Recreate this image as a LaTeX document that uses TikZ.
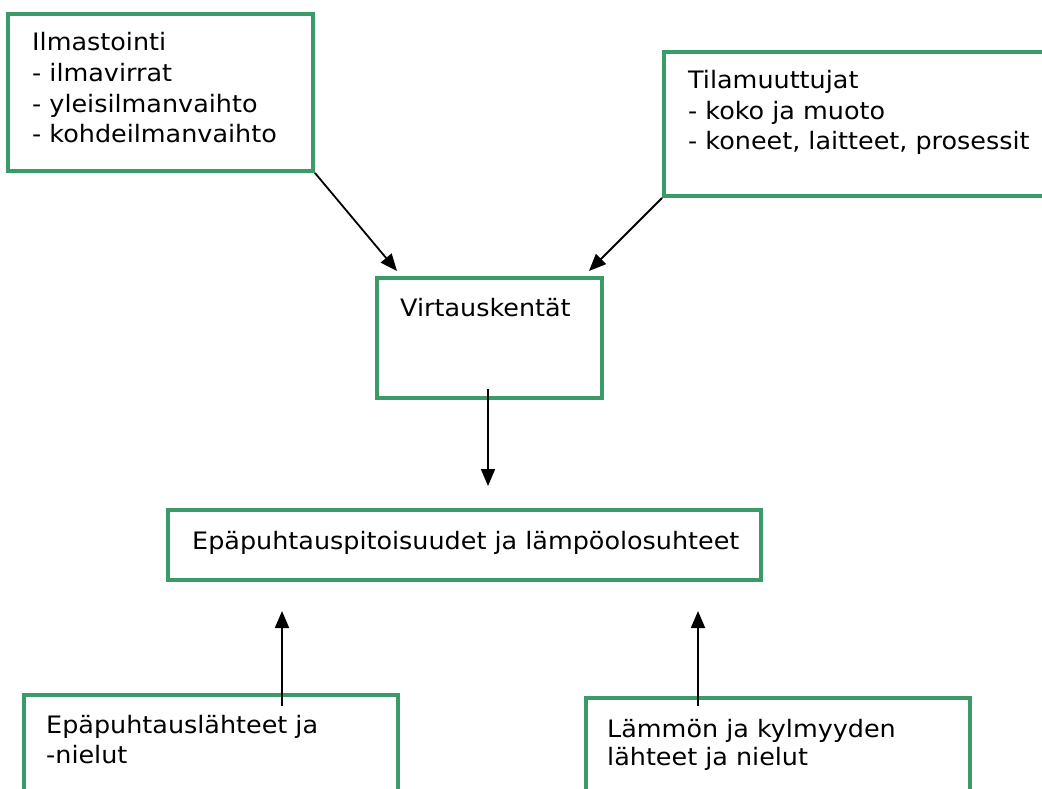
\documentclass[tikz,border=0pt]{standalone}
\usepackage{fontspec}
\setmainfont{DejaVu Sans}[FakeStretch=1.06]
\usetikzlibrary{arrows.meta}
\definecolor{boxgreen}{RGB}{58,154,104}
\begin{document}
\begin{tikzpicture}[x=1pt,y=-1pt,
  box/.style={draw=boxgreen, line width=3.8pt, rectangle, inner sep=0pt},
  txt/.style={anchor=base west, inner sep=0pt, font=\fontsize{24}{31}\selectfont},
  arr/.style={line width=1.8pt, -{Triangle[length=17pt,width=14pt]}}]
\useasboundingbox (0,0) rectangle (1042,789);
\fill[white] (0,0) rectangle (1042,789);
\clip (0,0) rectangle (1042,789);
% boxes
\node[box, minimum width=305pt, minimum height=157pt] (ilma) at (160.5,92.5) {};
\node[box, minimum width=396pt, minimum height=144pt] (tila) at (862,124) {};
\node[box, minimum width=225pt, minimum height=120pt] (virt) at (489.5,338) {};
\node[box, minimum width=593pt, minimum height=70pt] (epap) at (464.5,545) {};
\node[box, minimum width=374pt, minimum height=130pt] (lahde) at (211,760) {};
\node[box, minimum width=384pt, minimum height=126pt] (lamp) at (778,761) {};
% texts
\node[txt] (t1) at (32,51) {Ilmastointi};
\node[txt] (t2) at (32,82) {- ilmavirrat};
\node[txt] (t3) at (32,113) {- yleisilmanvaihto};
\node[txt] (t4) at (32,143) {- kohdeilmanvaihto};
\node[txt] (t5) at (688,89) {Tilamuuttujat};
\node[txt] (t6) at (688,120) {- koko ja muoto};
\node[txt] (t7) at (688,150) {- koneet, laitteet, prosessit};
\node[txt] (t8) at (400,316) {Virtauskentät};
\node[txt] (t9) at (192,549) {Epäpuhtauspitoisuudet ja lämpöolosuhteet};
\node[txt] (t10) at (46,733) {Epäpuhtauslähteet ja};
\node[txt] (t11) at (46,763) {-nielut};
\node[txt] (t12) at (607,737) {Lämmön ja kylmyyden};
\node[txt] (t13) at (607,765) {lähteet ja nielut};
% connector ends
\coordinate (c1) at (397,271);
\coordinate (c2) at (589,271);
\coordinate (c3s) at (488,389);
\coordinate (c3e) at (488,486);
\coordinate (c4s) at (282,706);
\coordinate (c4e) at (282,611);
\coordinate (c5s) at (698,706);
\coordinate (c5e) at (698,611);
\draw[arr] (ilma.south east) -- (c1);
\draw[arr] (tila.south west) -- (c2);
\draw[arr] (c3s) -- (c3e);
\draw[arr] (c4s) -- (c4e);
\draw[arr] (c5s) -- (c5e);
\end{tikzpicture}
\end{document}
